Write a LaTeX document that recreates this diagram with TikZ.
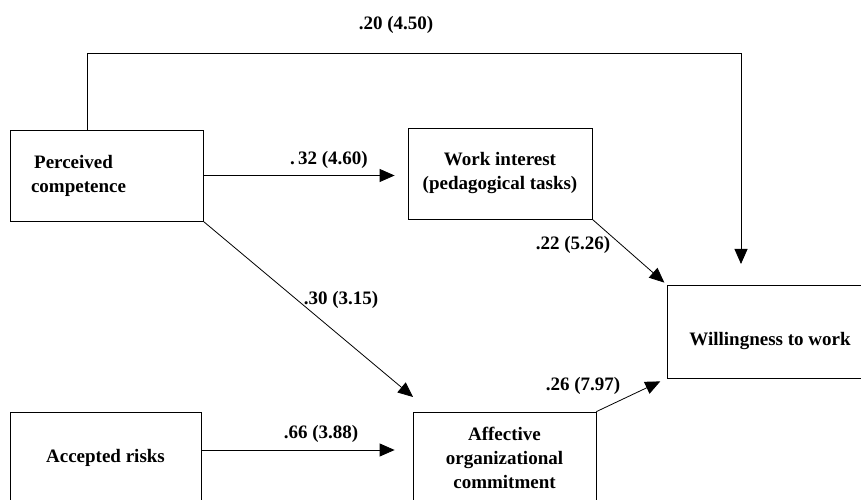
\documentclass[tikz,border=0pt]{standalone}
\usepackage{fontspec}
\setmainfont{Liberation Serif}
\usetikzlibrary{arrows.meta,positioning,calc}

\begin{document}
\begin{tikzpicture}[
  x=1pt, y=1pt,
  font=\bfseries\fontsize{19}{24}\selectfont,
  box/.style={draw, line width=0.8pt, align=center, inner sep=0pt,
              minimum height=91pt},
  arrow/.style={-{Triangle[length=15pt,width=13pt]}, line width=0.8pt},
  coef/.style={inner sep=1pt}
]
\useasboundingbox (0,0) rectangle (861,500);

% variables
\node[box, align=left, text width=151pt, inner xsep=21pt] (pc) at (106.5,324.5) {\,Perceived\\competence};
\node[box, minimum width=184pt] (wi) at (500,326.5) {Work interest\\(pedagogical tasks)};
\node[box, minimum width=206pt, minimum height=93pt, text height=33pt, text depth=4pt] (ww) at (770,168.5) {Willingness to work};
\node[box, minimum width=191pt] (ar) at (105.5,42.5) {Accepted risks};
\node[box, minimum width=183pt] (ao) at (504.5,42.5) {Affective\\organizational\\commitment};

% free ends of the paths
\coordinate (topl) at (87,447);
\coordinate (topr) at (741,447);
\coordinate (tipww) at (741,236);
\coordinate (tipao) at (413,103);

% paths
\draw[arrow] (pc.north -| topl) -- (topl) -- (topr) -- (tipww);
\draw[arrow, shorten >=13pt] (pc.east) -- (pc.east -| wi.west);
\draw[arrow] (pc.south east) -- (tipao);
\draw[arrow, shorten >=18pt] ([yshift=7.5pt]ar.east) -- ([yshift=7.5pt]ar.east -| ao.west);
\draw[arrow, shorten >=3pt] (wi.south east) -- (ww.north west);
\draw[arrow, shorten >=7pt] (ao.north east) -- (ww.south west);

% coefficients
\node[coef] (c20) at (396,475) {.20 (4.50)};
\node[coef] (c32) at (329,340) {.\,32 (4.60)};
\node[coef] (c30) at (341,200) {.30 (3.15)};
\node[coef] (c66) at (321,66) {.66 (3.88)};
\node[coef] (c22) at (573,255) {.22 (5.26)};
\node[coef] (c26) at (583,114) {.26 (7.97)};
\end{tikzpicture}
\end{document}
